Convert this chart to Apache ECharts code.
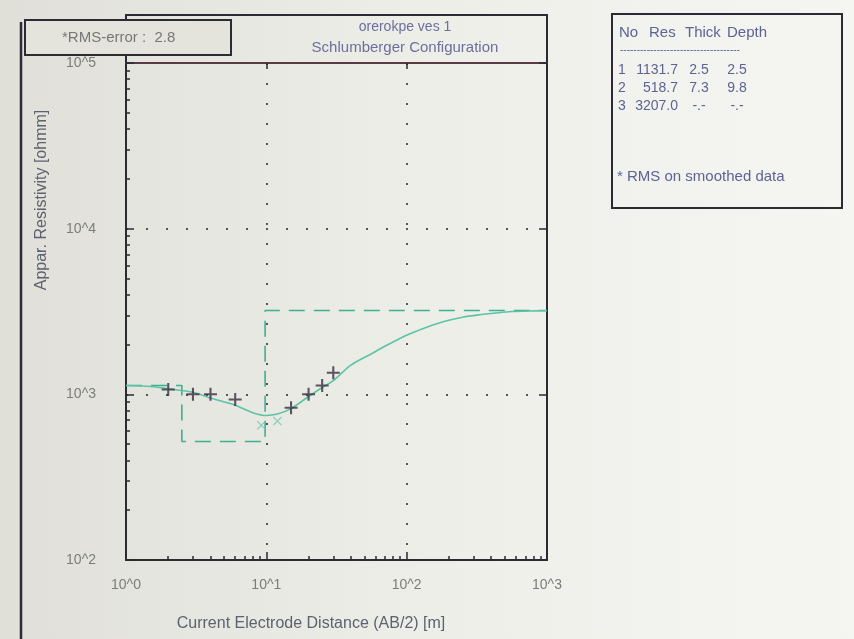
<!DOCTYPE html>
<html>
<head>
<meta charset="utf-8">
<script src="https://cdn.jsdelivr.net/npm/echarts@6/dist/echarts.min.js"></script>
<style>
  html, body { margin: 0; padding: 0; }
  #chart { width: 854px; height: 639px; }
</style>
</head>
<body>
<div id="chart"></div>
<script>
// Layered earth model (inverted result)
const layerNo = [1, 2, 3];
const layerRes = [1131.7, 518.7, 3207.0];
const layerThick = [2.5, 7.3, null];
const layerDepth = [2.5, 9.8, null];
const rmsError = 2.8;

// Field sounding (AB/2 in m, apparent resistivity in ohmm)
const obsAb = [2, 3, 4, 6, 15, 20, 25, 30];
const obsRho = [1070, 1000, 1000, 930, 830, 1000, 1130, 1350];

// Smoothed points
const smAb = [9.2, 12];
const smRho = [650, 690];

// Calculated sounding curve for the model
const calcAb = [1, 1.5, 2, 3, 4, 5, 6, 8, 10, 12, 15, 20, 25, 30, 40, 55, 70, 90, 110, 150, 190, 250, 330, 450, 560, 750, 1000];
const calcRho = [1130, 1115, 1080, 1030, 950, 900, 860, 775, 745, 760, 820, 970, 1100, 1210, 1500, 1740, 1950, 2180, 2350, 2600, 2770, 2920, 3020, 3110, 3160, 3185, 3195];

// Axis decades
const xMajor = [1, 10, 100, 1000];
const yMajor = [100, 1000, 10000, 100000];

const FONT = 'Liberation Sans';
const AXIS_COLOR = '#2b2a35';
const LABEL_COLOR = '#7c7c7c';
const TITLE_COLOR = '#6c6f9c';
const TABLE_COLOR = '#5d6492';

function minorOf(majors) {
  const out = [];
  for (let i = 0; i < majors.length - 1; i++) {
    for (let k = 2; k <= 9; k++) out.push(majors[i] * k);
  }
  return out;
}
const pow = v => '10^' + Math.round(Math.log10(v));

// Step line of the model: resistivity vs depth
const xMin = xMajor[0], xMax = xMajor[xMajor.length - 1];
const modelLine = [];
let stepStart = xMin;
for (let i = 0; i < layerRes.length; i++) {
  const stepEnd = layerDepth[i] != null ? layerDepth[i] : xMax;
  modelLine.push([stepStart, layerRes[i]]);
  modelLine.push([stepEnd, layerRes[i]]);
  stepStart = stepEnd;
}

const fmt = (v, d) => v == null ? '-.-' : v.toFixed(d);

const chart = echarts.init(document.getElementById('chart'));

const dotted = { show: true, lineStyle: { type: [2, 18], color: '#55555c', width: 2 } };

const tableText = (text, x, y, align, size) => ({
  type: 'text', x: x, y: y,
  style: { text: text, fill: TABLE_COLOR, font: (size || 15) + 'px "Liberation Sans"', textAlign: align || 'left', textVerticalAlign: 'middle' }
});

const option = {
  animation: false,
  backgroundColor: {
    type: 'linear', x: 0, y: 0, x2: 1, y2: 0,
    colorStops: [{ offset: 0, color: '#e0e0d9' }, { offset: 0.5, color: '#eeeee9' }, { offset: 1, color: '#f5f5f2' }]
  },
  grid: { left: 126, right: 307, top: 63, bottom: 79 },
  xAxis: [
    {
      type: 'log', logBase: 10, min: xMin, max: xMax, position: 'bottom',
      axisLine: { show: true, lineStyle: { color: AXIS_COLOR, width: 2 } },
      axisTick: { show: true, inside: true, length: 8, lineStyle: { color: AXIS_COLOR, width: 1.5 } },
      axisLabel: { formatter: pow, margin: 18, color: LABEL_COLOR, fontSize: 14, fontFamily: FONT },
      splitLine: dotted
    },
    {
      type: 'log', logBase: 10, min: xMin, max: xMax, position: 'bottom',
      axisLine: { show: false },
      axisTick: { show: true, inside: true, length: 4, customValues: minorOf(xMajor), lineStyle: { color: AXIS_COLOR, width: 1.5 } },
      axisLabel: { show: false }, splitLine: { show: false }
    },
    {
      type: 'log', logBase: 10, min: xMin, max: xMax, position: 'top',
      axisLine: { show: true, lineStyle: { color: '#5a3a44', width: 2 } },
      axisTick: { show: true, inside: true, length: 6, lineStyle: { color: AXIS_COLOR, width: 1.5 } },
      axisLabel: { show: false }, splitLine: { show: false }
    }
  ],
  yAxis: [
    {
      type: 'log', logBase: 10, min: yMajor[0], max: yMajor[yMajor.length - 1], position: 'left',
      axisLine: { show: true, lineStyle: { color: AXIS_COLOR, width: 2 } },
      axisTick: { show: true, inside: true, length: 8, lineStyle: { color: AXIS_COLOR, width: 1.5 } },
      axisLabel: { formatter: pow, margin: 30, color: LABEL_COLOR, fontSize: 14, fontFamily: FONT },
      splitLine: dotted
    },
    {
      type: 'log', logBase: 10, min: yMajor[0], max: yMajor[yMajor.length - 1], position: 'left',
      axisLine: { show: false },
      axisTick: { show: true, inside: true, length: 4, customValues: minorOf(yMajor), lineStyle: { color: AXIS_COLOR, width: 1.5 } },
      axisLabel: { show: false }, splitLine: { show: false }
    },
    {
      type: 'log', logBase: 10, min: yMajor[0], max: yMajor[yMajor.length - 1], position: 'right',
      axisLine: { show: true, lineStyle: { color: AXIS_COLOR, width: 2 } },
      axisTick: { show: true, inside: true, length: 8, lineStyle: { color: AXIS_COLOR, width: 1.5 } },
      axisLabel: { show: false }, splitLine: { show: false }
    }
  ],
  series: [
    {
      name: 'model', type: 'line', data: modelLine, symbol: 'none',
      lineStyle: { color: '#3fae92', width: 1.6, type: [16, 9] }, z: 2
    },
    {
      name: 'calculated', type: 'line', data: calcAb.map((a, i) => [a, calcRho[i]]),
      symbol: 'none', smooth: 0.3,
      lineStyle: { color: '#5cc4a6', width: 1.6 }, z: 3
    },
    {
      name: 'smoothed', type: 'scatter', data: smAb.map((a, i) => [a, smRho[i]]),
      symbol: 'path://M0,1L1,0L5,4L9,0L10,1L6,5L10,9L9,10L5,6L1,10L0,9L4,5Z',
      symbolSize: 9, itemStyle: { color: '#73c8b0' }, z: 4
    },
    {
      name: 'observed', type: 'scatter', data: obsAb.map((a, i) => [a, obsRho[i]]),
      symbol: 'path://M0,4.2H10V5.8H0Z M4.2,0H5.8V10H4.2Z',
      symbolSize: 13, itemStyle: { color: '#3a2c40' }, z: 5
    }
  ],
  graphic: [
    // outer window border
    { type: 'line', shape: { x1: 21, y1: 22, x2: 21, y2: 639 }, style: { stroke: AXIS_COLOR, lineWidth: 2.5 } },
    // title box above the plot
    { type: 'rect', shape: { x: 126, y: 15, width: 421, height: 48 }, style: { fill: 'none', stroke: AXIS_COLOR, lineWidth: 2 } },
    { type: 'text', x: 405, y: 27, style: { text: 'orerokpe ves 1', fill: TITLE_COLOR, font: '14px "Liberation Sans"', textAlign: 'center', textVerticalAlign: 'middle' } },
    { type: 'text', x: 405, y: 48, style: { text: 'Schlumberger Configuration', fill: TITLE_COLOR, font: '15px "Liberation Sans"', textAlign: 'center', textVerticalAlign: 'middle' } },
    // RMS box
    { type: 'rect', z: 10, shape: { x: 25, y: 20, width: 206, height: 35 }, style: { fill: '#e4e4dd', stroke: AXIS_COLOR, lineWidth: 2 } },
    { type: 'text', z: 11, x: 62, y: 38, style: { text: '*RMS-error :  ' + rmsError.toFixed(1), fill: '#777777', font: '15px "Liberation Sans"', textVerticalAlign: 'middle' } },
    // axis names
    { type: 'text', x: 311, y: 624, style: { text: 'Current Electrode Distance (AB/2) [m]', fill: '#5e6170', font: '16px "Liberation Sans"', textAlign: 'center', textVerticalAlign: 'middle' } },
    { type: 'text', x: 42, y: 200, rotation: Math.PI / 2, style: { text: 'Appar. Resistivity [ohmm]', fill: '#5e6170', font: '16px "Liberation Sans"', textAlign: 'center', textVerticalAlign: 'middle' } },
    // layer table
    { type: 'rect', shape: { x: 612, y: 14, width: 230, height: 194 }, style: { fill: 'none', stroke: AXIS_COLOR, lineWidth: 2 } },
    tableText('No', 619, 33),
    tableText('Res', 649, 33),
    tableText('Thick', 685, 33),
    tableText('Depth', 727, 33),
    { type: 'text', x: 620, y: 50, style: { text: '------------------------------------', fill: TABLE_COLOR, font: '10px "Liberation Sans"', textVerticalAlign: 'middle' } }
  ].concat(layerNo.flatMap((n, i) => {
    const y = 70 + i * 18;
    return [
      tableText(String(n), 618, y, 'left', 14),
      tableText(layerRes[i].toFixed(1), 678, y, 'right', 14),
      tableText(fmt(layerThick[i], 1), 699, y, 'center', 14),
      tableText(fmt(layerDepth[i], 1), 737, y, 'center', 14)
    ];
  })).concat([
    tableText('* RMS on smoothed data', 617, 177)
  ])
};

chart.setOption(option);
</script>
</body>
</html>
